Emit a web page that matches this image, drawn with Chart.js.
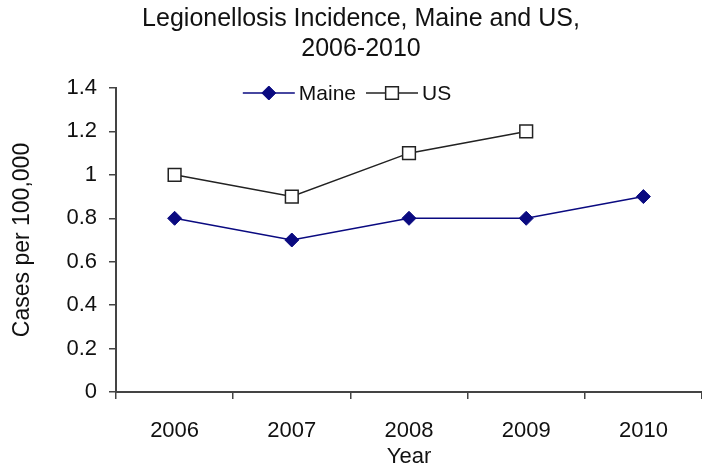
<!DOCTYPE html>
<html lang="en">
<head>
    <meta charset="UTF-8">
    <title>Legionellosis Incidence, Maine and US, 2006-2010</title>
    <script src="https://cdn.jsdelivr.net/npm/chart.js"></script>
    <style>
        html, body { margin: 0; padding: 0; background: #fff; }
        #wrap { width: 702px; height: 466px; }
    </style>
</head>
<body>
    <div id="wrap"><canvas id="chart"></canvas></div>
    <script>
        // data
        const years = ['2006', '2007', '2008', '2009', '2010'];
        const maine = [0.8, 0.7, 0.8, 0.8, 0.9];
        const us = [1.0, 0.9, 1.1, 1.2, null];

        const axisColor = '#444';
        const font = 'Liberation Sans, Arial, sans-serif';

        // Excel-style legend: line - marker - line, then the name
        const lineLegend = {
            id: 'lineLegend',
            afterDraw(chart) {
                const ctx = chart.ctx;
                const y = chart.chartArea.top + 5;
                ctx.save();
                ctx.font = '21px ' + font;
                const items = chart.data.datasets.map(ds => ({ ds, w: 52 + 4 + ctx.measureText(ds.label).width }));
                const gap = 10;
                const total = items.reduce((s, it) => s + it.w, 0) + gap * (items.length - 1);
                let x = chart.width / 2 - total / 2 - 4;
                items.forEach(it => {
                    const ds = it.ds;
                    const cx = x + 26;
                    ctx.strokeStyle = ds.borderColor;
                    ctx.lineWidth = 1.5;
                    ctx.beginPath();
                    ctx.moveTo(x, y);
                    ctx.lineTo(x + 52, y);
                    ctx.stroke();
                    ctx.fillStyle = ds.pointBackgroundColor;
                    ctx.strokeStyle = ds.pointBorderColor;
                    ctx.lineWidth = ds.pointBorderWidth;
                    ctx.beginPath();
                    if (ds.pointStyle === 'rect') {
                        const s = ds.pointRadius * Math.SQRT1_2;
                        ctx.rect(cx - s, y - s, 2 * s, 2 * s);
                    } else {
                        const r = ds.pointRadius;
                        ctx.moveTo(cx, y - r);
                        ctx.lineTo(cx + r, y);
                        ctx.lineTo(cx, y + r);
                        ctx.lineTo(cx - r, y);
                        ctx.closePath();
                    }
                    ctx.fill();
                    ctx.stroke();
                    ctx.fillStyle = '#111';
                    ctx.textBaseline = 'middle';
                    ctx.fillText(ds.label, x + 56, y + 1);
                    x += it.w + gap;
                });
                ctx.restore();
            }
        };

        new Chart(document.getElementById('chart'), {
            type: 'line',
            data: {
                labels: years,
                datasets: [{
                    label: 'Maine',
                    data: maine,
                    borderColor: '#0a0a80',
                    borderWidth: 1.5,
                    pointStyle: 'rectRot',
                    pointRadius: 7,
                    pointBackgroundColor: '#0a0a80',
                    pointBorderColor: '#0a0a80',
                    pointBorderWidth: 1,
                    tension: 0
                }, {
                    label: 'US',
                    data: us,
                    borderColor: '#222',
                    borderWidth: 1.5,
                    pointStyle: 'rect',
                    pointRadius: 9,
                    pointBackgroundColor: '#fff',
                    pointBorderColor: '#222',
                    pointBorderWidth: 1.5,
                    tension: 0
                }]
            },
            options: {
                responsive: true,
                maintainAspectRatio: false,
                animation: false,
                // negative right padding only shifts the title over, like the original
                layout: { autoPadding: false, padding: { top: 4, right: -20, bottom: 0, left: 0 } },
                plugins: {
                    legend: { display: false },
                    tooltip: { enabled: false },
                    title: {
                        display: true,
                        text: ['Legionellosis Incidence, Maine and US,', '2006-2010'],
                        color: '#111',
                        font: { family: font, size: 25, weight: 'normal', lineHeight: 1.2 },
                        padding: { top: 0, bottom: 24 }
                    }
                },
                scales: {
                    x: {
                        offset: true,
                        afterFit: s => { s.paddingLeft = 0; s.paddingRight = 0; s.height = 74; },
                        grid: {
                            offset: true,
                            drawOnChartArea: false,
                            drawTicks: true,
                            tickLength: 7,
                            color: axisColor,
                            lineWidth: 1.5
                        },
                        border: { color: axisColor, width: 2 },
                        ticks: {
                            color: '#111',
                            padding: 19,
                            font: { family: font, size: 22 }
                        },
                        title: {
                            display: true,
                            text: 'Year',
                            color: '#111',
                            padding: { top: 0, bottom: 0 },
                            font: { family: font, size: 22, lineHeight: 0.85 }
                        }
                    },
                    y: {
                        min: 0,
                        max: 1.4,
                        afterFit: s => { s.width = 116; },
                        grid: {
                            drawOnChartArea: false,
                            drawTicks: true,
                            tickLength: 7,
                            color: axisColor,
                            lineWidth: 1.5
                        },
                        border: { color: axisColor, width: 2 },
                        ticks: {
                            stepSize: 0.2,
                            color: '#111',
                            padding: 12,
                            font: { family: font, size: 22 },
                            callback: v => String(Math.round(v * 10) / 10)
                        },
                        title: {
                            display: true,
                            text: 'Cases per 100,000',
                            color: '#111',
                            padding: { top: 9, bottom: 0 },
                            font: { family: font, size: 23 }
                        }
                    }
                }
            },
            plugins: [lineLegend]
        });
    </script>
</body>
</html>
